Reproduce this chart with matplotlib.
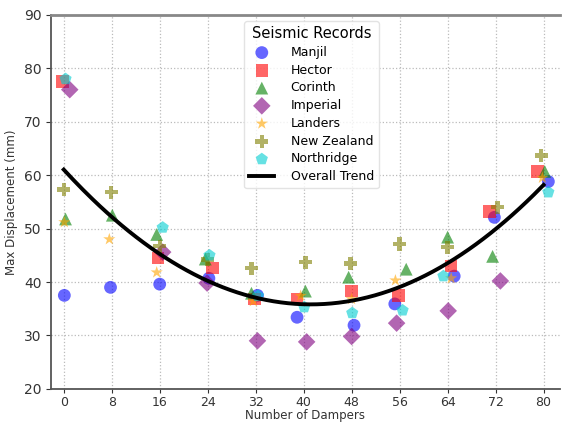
import numpy as np
import matplotlib.pyplot as plt

# Max displacement per earthquake record vs. number of dampers
# (x values carry the small horizontal offsets used to separate the records)
dampers = [0, 8, 16, 24, 32, 40, 48, 56, 64, 72, 80]
nan = np.nan

manjil_x = [0.1, 7.8, 16.0, 24.2, 32.3, 38.9, 48.4, 55.2, 65.1, 71.8, 80.8]
manjil_y = [37.5, 39.0, 39.6, 40.7, 37.5, 33.4, 31.9, 35.9, 41.1, 52.1, 58.8]

hector_x = [-0.2, nan, 15.7, 24.8, 31.8, 38.9, 48.0, 55.8, 64.6, 71.0, 79.0]
hector_y = [77.5, nan, 44.5, 42.6, 36.8, 36.8, 38.3, 37.5, 43.0, 53.2, 60.7]

corinth_x = [0.3, 8.1, 15.5, 23.6, 31.3, 40.3, 47.5, 57.1, 64.0, 71.5, 80.2]
corinth_y = [51.8, 52.5, 48.9, 44.3, 37.9, 38.3, 40.9, 42.4, 48.4, 44.8, 60.7]

imperial_x = [1.0, nan, 16.5, 23.9, 32.3, 40.5, 48.0, 55.5, 64.1, 72.8, nan]
imperial_y = [76.0, nan, 45.6, 39.8, 29.0, 28.8, 29.8, 32.3, 34.6, 40.2, nan]

landers_x = [0.1, 7.6, 15.5, nan, 31.6, 39.5, 48.0, 55.3, 64.6, nan, 79.8]
landers_y = [51.2, 48.0, 41.8, nan, 36.4, 37.4, 36.8, 40.3, 40.7, nan, 59.5]

nz_x = [0.0, 7.9, 16.0, 24.0, 31.3, 40.3, 47.8, 56.0, 64.0, 72.3, 79.6]
nz_y = [57.3, 56.8, 46.7, 44.2, 42.6, 43.7, 43.5, 47.1, 46.5, 54.0, 63.7]

northridge_x = [0.3, nan, 16.5, 24.3, 32.4, 40.1, 48.1, 56.5, 63.3, nan, 80.8]
northridge_y = [78.0, nan, 50.2, 45.0, 37.4, 35.3, 34.2, 34.7, 41.1, nan, 56.8]

records = [
    ('Manjil', manjil_x, manjil_y, 'o', 'blue', 85),
    ('Hector', hector_x, hector_y, 's', 'red', 80),
    ('Corinth', corinth_x, corinth_y, '^', 'green', 85),
    ('Imperial', imperial_x, imperial_y, 'D', 'purple', 80),
    ('Landers', landers_x, landers_y, '*', 'orange', 85),
    ('New Zealand', nz_x, nz_y, 'P', 'olive', 90),
    ('Northridge', northridge_x, northridge_y, 'p', 'darkturquoise', 85),
]

fig = plt.figure(figsize=(5.62, 4.25), dpi=100)
ax = fig.add_axes([0.091, 0.085, 0.905, 0.88])

all_x, all_y = [], []
for name, xs, ys, mk, col, size in records:
    ax.scatter(xs, ys, marker=mk, color=col, alpha=0.6, s=size,
               edgecolors='none', label=name, zorder=3)
    for xv, yv in zip(xs, ys):
        if not np.isnan(yv):
            all_x.append(xv)
            all_y.append(yv)

# Quadratic trend through every record
coef = np.polyfit(all_x, all_y, 2)
xfit = np.linspace(0, 80, 200)
ax.plot(xfit, np.polyval(coef, xfit), color='black', lw=2.8,
        label='Overall Trend', zorder=4)

ax.set_xlim(-2.1, 82.7)
ax.set_ylim(20, 90)
ax.set_xticks(dampers)
ax.set_yticks(range(20, 91, 10))
ax.tick_params(axis='x', labelsize=9, colors='#333333', pad=2, length=3)
ax.tick_params(axis='y', labelsize=10, colors='#333333', length=3.5)
ax.set_xlabel('Number of Dampers', fontsize=8.5, color='#333333', labelpad=0)
ax.set_ylabel('Max Displacement (mm)', fontsize=8.5, color='#333333')
ax.grid(True, linestyle=':', color='#bbbbbb', linewidth=0.9)

for side in ['left', 'bottom']:
    ax.spines[side].set_color('#555555')
    ax.spines[side].set_linewidth(1.3)
ax.spines['top'].set_color('#888888')
ax.spines['top'].set_linewidth(2)
ax.spines['right'].set_visible(False)

leg = ax.legend(title='Seismic Records', loc='upper center',
                bbox_to_anchor=(0.512, 1.0), fontsize=9, title_fontsize=10.5,
                framealpha=0.8, edgecolor='#dddddd', borderpad=0.4,
                labelspacing=0.38, handletextpad=1.3)

fig.savefig('out.png', dpi=100)
